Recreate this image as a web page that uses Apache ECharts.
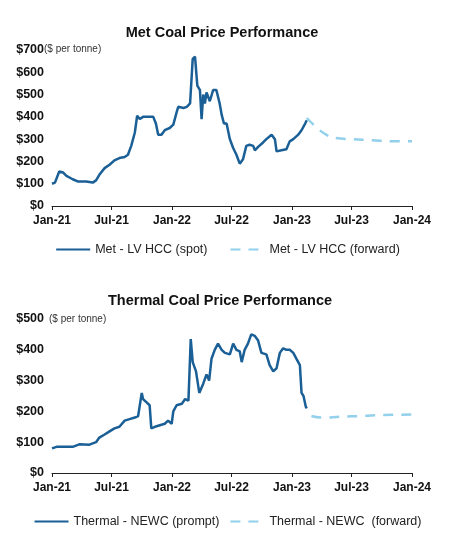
<!DOCTYPE html><html><head><meta charset="utf-8">
<script src="https://cdn.jsdelivr.net/npm/echarts@6/dist/echarts.min.js"></script>
<style>html,body{margin:0;padding:0;background:#fff}#c{width:455px;height:538px}</style></head><body><div id="c"></div>
<script>
const metSpotDates=['2021-01-01','2021-01-10','2021-01-23','2021-02-04','2021-02-14','2021-03-05','2021-03-20','2021-04-15','2021-05-05','2021-05-15','2021-05-25','2021-06-10','2021-06-25','2021-07-10','2021-07-25','2021-08-10','2021-08-20','2021-08-30','2021-09-10','2021-09-17','2021-09-25','2021-10-05','2021-10-20','2021-11-05','2021-11-13','2021-11-20','2021-11-30','2021-12-10','2021-12-25','2022-01-05','2022-01-15','2022-01-20','2022-02-05','2022-02-15','2022-02-25','2022-03-05','2022-03-12','2022-03-19','2022-03-27','2022-04-01','2022-04-06','2022-04-11','2022-04-16','2022-04-26','2022-05-06','2022-05-16','2022-05-26','2022-06-01','2022-06-08','2022-06-16','2022-06-26','2022-07-06','2022-07-16','2022-07-26','2022-08-05','2022-08-15','2022-08-25','2022-09-05','2022-09-10','2022-09-20','2022-10-05','2022-10-15','2022-10-31','2022-11-10','2022-11-15','2022-11-30','2022-12-15','2022-12-25','2023-01-05','2023-01-20','2023-01-30','2023-02-10','2023-02-15'];
const metSpotValues=[100,105,155,150,135,120,110,110,105,115,140,170,185,205,215,220,230,270,330,405,390,400,400,400,370,320,320,340,350,365,420,445,440,445,460,660,670,540,520,390,500,460,510,470,520,520,460,410,370,370,300,260,230,190,210,270,275,270,250,265,285,300,320,300,245,250,255,290,300,320,340,370,385];
const metFwdDates=['2023-02-15','2023-03-15','2023-04-15','2023-05-15','2023-07-01','2023-09-01','2023-11-01','2024-01-01'];
const metFwdValues=[395,355,320,305,300,295,290,290];
const thSpotDates=['2021-01-01','2021-01-15','2021-02-14','2021-03-05','2021-03-25','2021-04-25','2021-05-15','2021-05-25','2021-06-10','2021-06-25','2021-07-10','2021-07-25','2021-08-10','2021-08-25','2021-09-10','2021-09-20','2021-10-01','2021-10-05','2021-10-15','2021-10-25','2021-10-30','2021-11-10','2021-11-25','2021-12-10','2021-12-20','2021-12-31','2022-01-05','2022-01-15','2022-01-31','2022-02-10','2022-02-20','2022-02-27','2022-03-05','2022-03-15','2022-03-25','2022-04-06','2022-04-16','2022-04-24','2022-05-01','2022-05-11','2022-05-21','2022-06-01','2022-06-11','2022-06-26','2022-07-06','2022-07-16','2022-07-26','2022-08-01','2022-08-10','2022-08-20','2022-08-30','2022-09-10','2022-09-20','2022-09-30','2022-10-15','2022-10-25','2022-11-05','2022-11-15','2022-11-25','2022-12-05','2022-12-15','2022-12-25','2023-01-05','2023-01-15','2023-01-25','2023-01-30','2023-02-05','2023-02-12','2023-02-15'];
const thSpotValues=[80,85,85,85,93,92,100,115,125,135,145,150,170,175,180,185,260,240,230,220,145,150,155,160,170,160,200,220,225,240,235,435,360,330,260,290,320,300,370,400,420,400,390,385,420,400,395,360,400,420,450,445,430,390,385,350,330,340,390,405,400,400,390,370,350,260,250,215,210];
const thFwdDates=['2023-03-01','2023-04-01','2023-06-01','2023-08-01','2023-10-01','2024-01-01'];
const thFwdValues=[185,180,183,185,188,190];
const xTicks=['2021-01-01','2021-07-01','2022-01-01','2022-07-01','2023-01-01','2023-07-01','2024-01-01'];

const DARK='#1a5f96', LIGHT='#92d0ec';
const zip=(d,v)=>d.map((x,i)=>[x,v[i]]);
const mon=['Jan','Feb','Mar','Apr','May','Jun','Jul','Aug','Sep','Oct','Nov','Dec'];
function xAx(i){return {type:'time',gridIndex:i,min:xTicks[0],max:xTicks[xTicks.length-1],
  interval:182.6*86400000,minInterval:181*86400000,maxInterval:184*86400000,
  axisLine:{lineStyle:{color:'#222'}},axisTick:{show:true,length:4,lineStyle:{color:'#222'}},
  splitLine:{show:false},
  axisLabel:{color:'#111',fontWeight:'bold',fontSize:12,fontFamily:'Liberation Sans',margin:9,hideOverlap:false,showMaxLabel:true,showMinLabel:true,
    formatter:v=>{const d=new Date(v);return mon[d.getUTCMonth()]+'-'+String(d.getUTCFullYear()).slice(2);}}};}
function yAx(i,max){return {type:'value',gridIndex:i,min:0,max:max,interval:100,
  axisLine:{show:false},axisTick:{show:false},splitLine:{show:false},
  axisLabel:{color:'#111',fontWeight:'bold',fontSize:12.5,fontFamily:'Liberation Sans',formatter:'${value}'}};}
const chart=echarts.init(document.getElementById('c'));
chart.setOption({
  animation:false,
  textStyle:{fontFamily:'Liberation Sans'},
  title:[{text:'Met Coal Price Performance',left:217,textAlign:'center',top:20,textStyle:{fontSize:14.5,fontWeight:'bold',color:'#111'}},
         {text:'Thermal Coal Price Performance',left:215,textAlign:'center',top:288,textStyle:{fontSize:14.5,fontWeight:'bold',color:'#111'}}],
  grid:[{left:52,right:43,top:50,height:156},{left:52,right:43,top:319,height:154}],
  xAxis:[xAx(0),xAx(1)],
  yAxis:[yAx(0,700),yAx(1,500)],
  legend:[{data:['Met - LV HCC (spot)','Met - LV HCC (forward)'],top:238,left:'center',itemWidth:34,itemGap:22,
     itemStyle:{opacity:0},textStyle:{fontSize:12.5,color:'#222'}},
    {data:['Thermal - NEWC (prompt)','Thermal - NEWC  (forward)'],top:510,left:'center',itemWidth:34,itemGap:10,
     itemStyle:{opacity:0},textStyle:{fontSize:12.5,color:'#222'}}],
  graphic:[{type:'text',left:44,top:44,style:{text:'($ per tonne)',fontSize:10,fill:'#333'}},
           {type:'text',left:49,top:314,style:{text:'($ per tonne)',fontSize:10,fill:'#333'}}],
  series:[
   {name:'Met - LV HCC (spot)',type:'line',xAxisIndex:0,yAxisIndex:0,data:zip(metSpotDates,metSpotValues),symbol:'none',lineStyle:{color:DARK,width:2.5},itemStyle:{color:DARK}},
   {name:'Met - LV HCC (forward)',type:'line',xAxisIndex:0,yAxisIndex:0,data:zip(metFwdDates,metFwdValues),smooth:true,symbol:'none',lineStyle:{color:LIGHT,width:2.5,type:[10,8]},itemStyle:{color:LIGHT}},
   {name:'Thermal - NEWC (prompt)',type:'line',xAxisIndex:1,yAxisIndex:1,data:zip(thSpotDates,thSpotValues),symbol:'none',lineStyle:{color:DARK,width:2.5},itemStyle:{color:DARK}},
   {name:'Thermal - NEWC  (forward)',type:'line',xAxisIndex:1,yAxisIndex:1,data:zip(thFwdDates,thFwdValues),smooth:true,symbol:'none',lineStyle:{color:LIGHT,width:2.5,type:[10,8]},itemStyle:{color:LIGHT}}
  ]
});
</script></body></html>
